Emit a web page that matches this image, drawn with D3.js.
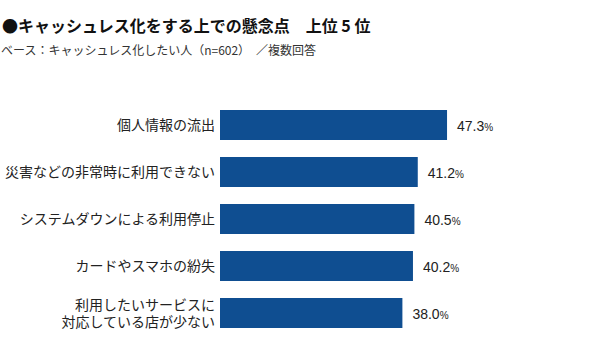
<!DOCTYPE html>
<html><head><meta charset="utf-8">
<script src="https://cdn.jsdelivr.net/npm/d3@7"></script>
<style>
html,body{margin:0;padding:0;background:#fff;}
svg{display:block;}
</style></head>
<body>
<script>
const titleText = "●キャッシュレス化をする上での懸念点　上位 5 位";
const subtitleText = "ベース：キャッシュレス化したい人（n=602）　／複数回答";
const categories = [
  ["個人情報の流出"],
  ["災害などの非常時に利用できない"],
  ["システムダウンによる利用停止"],
  ["カードやスマホの紛失"],
  ["利用したいサービスに", "対応している店が少ない"]
];
const values = [47.3, 41.2, 40.5, 40.2, 38.0];

const W = 600, H = 350;
const font = "'Noto Sans CJK JP','Noto Sans',sans-serif";
const svg = d3.select("body").append("svg").attr("width", W).attr("height", H);

svg.append("text").attr("x", 2).attr("y", 32)
  .attr("font-family", font).attr("font-size", 16).attr("font-weight", 700)
  .attr("fill", "#111").text(titleText);
svg.append("text").attr("x", 1).attr("y", 55)
  .attr("font-family", font).attr("font-size", 12)
  .attr("fill", "#333").text(subtitleText);

const idx = d3.range(values.length);
const y = d3.scaleBand().domain(idx).range([101.5, 336.5]).paddingInner(0.362).paddingOuter(0.181);
const x = d3.scaleLinear().domain([0, 50]).range([220, 460]);

svg.append("g").selectAll("rect").data(idx).join("rect")
  .attr("x", x(0)).attr("y", i => y(i))
  .attr("width", i => x(values[i]) - x(0)).attr("height", y.bandwidth())
  .attr("fill", "#0f4e91");

// category labels
const lab = svg.append("g").attr("font-family", font).attr("font-size", 14).attr("fill", "#222")
  .attr("text-anchor", "end");
idx.forEach(i => {
  const lines = categories[i];
  const cy = y(i) + y.bandwidth() / 2;
  const lh = 17;
  const t = lab.append("text").attr("x", 215)
    .attr("y", cy - (lines.length - 1) / 2 * lh).attr("dy", "0.36em");
  lines.forEach((s, k) => {
    t.append("tspan").attr("x", 215).attr("dy", k === 0 ? "0.36em" : lh).text(s);
  });
  t.attr("dy", null);
});

// value labels
const vl = svg.append("g").attr("font-family", "'Liberation Sans',Arial,sans-serif").attr("fill", "#222");
idx.forEach(i => {
  const t = vl.append("text").attr("x", x(values[i]) + 10)
    .attr("y", y(i) + y.bandwidth() / 2).attr("dy", "0.36em");
  t.append("tspan").attr("font-size", 14).text(values[i].toFixed(1));
  t.append("tspan").attr("font-size", 10).text("%");
});
</script>
</body></html>
